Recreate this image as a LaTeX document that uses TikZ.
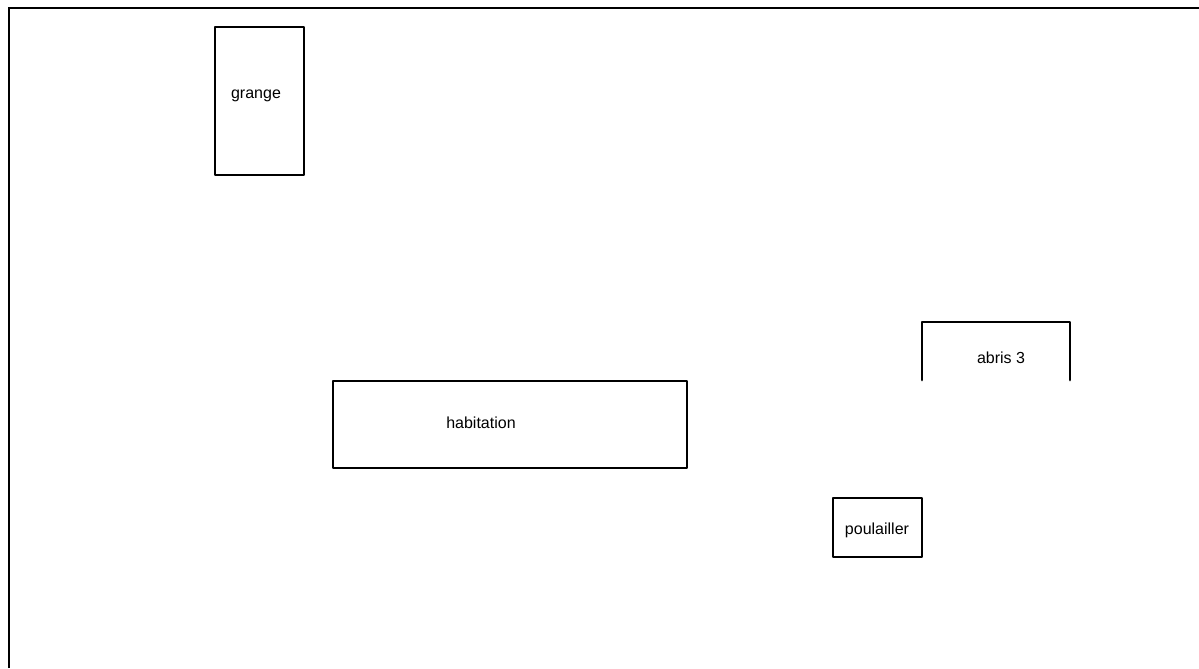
\documentclass[tikz,border=0pt]{standalone}
\usepackage{fontspec}
\setmainfont{Liberation Sans}
\begin{document}
\begin{tikzpicture}[x=0.75pt,y=-0.75pt,
  wall/.style={line width=2.2pt,line join=round,line cap=round},
  label/.style={font=\fontsize{12}{14}\selectfont,inner sep=0pt}]

\useasboundingbox (0,0) rectangle (1199,668);

% Frame
\draw[line width=1.5pt] (8.5,668) -- (8.5,8) -- (1199,8);

% Buildings
\draw[wall] (215,27) rectangle (304,175);
\draw[wall] (333,381) rectangle (687,468);
\draw[wall] (833,498) rectangle (922,557);
\draw[wall] (922,380) -- (922,322) -- (1070,322) -- (1070,380);

% Labels
\node[label] (grange) at (256,96) {grange};
\node[label] (habitation) at (481,423) {habitation};
\node[label] (poulailler) at (877,530) {poulailler};
\node[label] (abris) at (1001,358) {abris 3};

\end{tikzpicture}
\end{document}
